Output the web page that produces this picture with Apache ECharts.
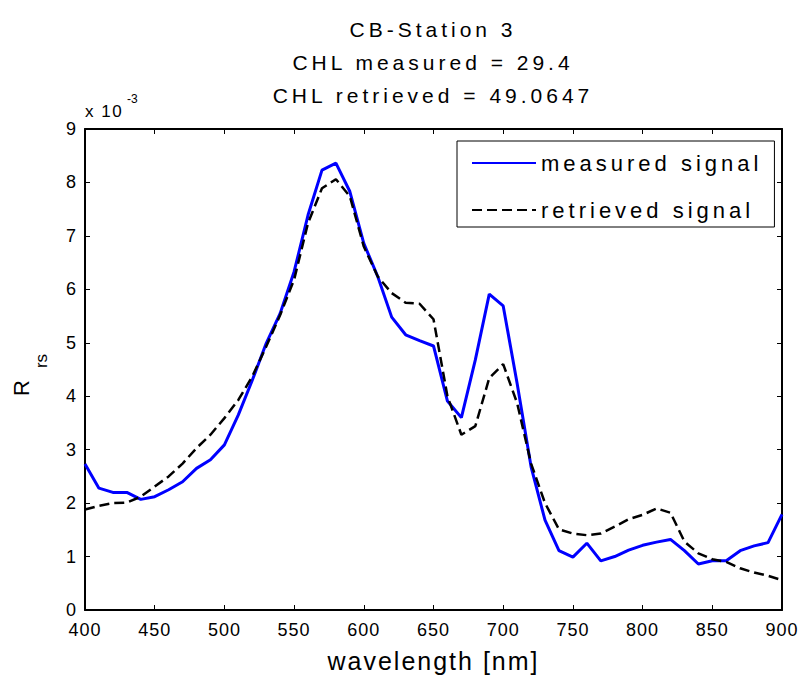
<!DOCTYPE html>
<html>
<head>
<meta charset="utf-8">
<title>CB-Station 3</title>
<script src="https://cdn.jsdelivr.net/npm/echarts@6/dist/echarts.min.js"></script>
<style>
  html, body { margin: 0; padding: 0; background: #fff; }
  #chart { width: 801px; height: 678px; }
</style>
</head>
<body>
<div id="chart"></div>
<script>
// Wavelength grid (nm)
const wavelengths = [400, 410, 420, 430, 440, 450, 460, 470, 480, 490,
  500, 510, 520, 530, 540, 550, 560, 570, 580, 590,
  600, 610, 620, 630, 640, 650, 660, 670, 680, 690,
  700, 710, 720, 730, 740, 750, 760, 770, 780, 790,
  800, 810, 820, 830, 840, 850, 860, 870, 880, 890, 900];

// Remote-sensing reflectance, in units of 1e-3 sr^-1
const measuredSignal = [2.73, 2.28, 2.20, 2.20, 2.07, 2.12, 2.25, 2.40, 2.65, 2.81,
  3.09, 3.65, 4.30, 4.99, 5.55, 6.33, 7.39, 8.23, 8.36, 7.83,
  6.86, 6.24, 5.48, 5.15, 5.04, 4.94, 3.91, 3.60, 4.68, 5.91,
  5.69, 4.24, 2.68, 1.68, 1.11, 0.99, 1.25, 0.92, 1.00, 1.12,
  1.21, 1.27, 1.32, 1.11, 0.86, 0.92, 0.92, 1.11, 1.20, 1.26, 1.79];

const retrievedSignal = [1.88, 1.95, 2.00, 2.01, 2.12, 2.31, 2.50, 2.74, 3.03, 3.28,
  3.59, 3.93, 4.37, 4.93, 5.52, 6.18, 7.24, 7.89, 8.06, 7.74,
  6.80, 6.24, 5.93, 5.75, 5.73, 5.44, 4.00, 3.28, 3.44, 4.34,
  4.60, 3.87, 2.74, 2.00, 1.51, 1.43, 1.40, 1.43, 1.56, 1.70,
  1.78, 1.90, 1.82, 1.28, 1.06, 0.95, 0.90, 0.78, 0.70, 0.64, 0.56];

const xTicks = { min: 400, max: 900, interval: 50 };
const yTicks = { min: 0, max: 9, interval: 1 };

const titleLines = ['CB-Station 3', 'CHL measured = 29.4', 'CHL retrieved = 49.0647'];
const seriesNames = ['measured signal', 'retrieved signal'];
const xLabel = 'wavelength [nm]';
const multiplierText = 'x 10';
const multiplierExp = '-3';

const FONT = "'Liberation Sans', Arial, Helvetica, sans-serif";

const toPairs = (xs, ys) => xs.map((x, i) => [x, ys[i]]);

const frameAxis = (extra) => Object.assign({
  type: 'value',
  axisLine: { show: true, onZero: false, lineStyle: { color: '#000', width: 2 } },
  axisTick: { show: true, inside: true, length: 5, lineStyle: { color: '#000', width: 1 } },
  splitLine: { show: false },
  axisLabel: { show: false }
}, extra);

const chart = echarts.init(document.getElementById('chart'), null, { renderer: 'svg' });

chart.setOption({
  animation: false,
  backgroundColor: '#fff',
  title: {
    text: titleLines.join('\n'),
    left: 433,
    top: 13,
    textAlign: 'center',
    padding: 0,
    textStyle: { fontFamily: FONT, fontSize: 21, fontWeight: 'normal', color: '#000', lineHeight: 33 }
  },
  grid: { left: 85, right: 19, top: 129, bottom: 68, containLabel: false },
  legend: {
    orient: 'vertical',
    left: 457,
    top: 141,
    padding: [7, 72, 2, 14],
    itemWidth: 64,
    itemHeight: 14,
    itemGap: 17,
    borderColor: '#000',
    borderWidth: 1,
    backgroundColor: '#fff',
    data: seriesNames,
    itemStyle: { opacity: 0 },
    textStyle: { fontFamily: FONT, fontSize: 22, color: '#000', lineHeight: 30 }
  },
  xAxis: [
    frameAxis({
      position: 'bottom',
      min: xTicks.min, max: xTicks.max, interval: xTicks.interval,
      axisLabel: { show: true, color: '#000', fontFamily: FONT, fontSize: 18, lineHeight: 14, margin: 13 },
      name: xLabel,
      nameLocation: 'middle',
      nameGap: 38,
      nameTextStyle: { fontFamily: FONT, fontSize: 25, color: '#000' }
    }),
    frameAxis({ position: 'top', min: xTicks.min, max: xTicks.max, interval: xTicks.interval })
  ],
  yAxis: [
    frameAxis({
      position: 'left',
      min: yTicks.min, max: yTicks.max, interval: yTicks.interval,
      axisLabel: { show: true, color: '#000', fontFamily: FONT, fontSize: 18, lineHeight: 14, margin: 8 }
    }),
    frameAxis({ position: 'right', min: yTicks.min, max: yTicks.max, interval: yTicks.interval })
  ],
  graphic: [
    // y-axis quantity R_rs, rotated
    { type: 'text', x: 21, y: 388, rotation: Math.PI / 2,
      style: { text: 'R', fontFamily: FONT, fontSize: 22, fill: '#000', align: 'center', verticalAlign: 'middle' } },
    { type: 'text', x: 41, y: 361, rotation: Math.PI / 2,
      style: { text: 'rs', fontFamily: FONT, fontSize: 17, fill: '#000', align: 'center', verticalAlign: 'middle' } },
    // axis multiplier
    { type: 'text', x: 85, y: 103,
      style: { text: multiplierText, fontFamily: FONT, fontSize: 17, fill: '#000', align: 'left', verticalAlign: 'top' } },
    { type: 'text', x: 127, y: 93,
      style: { text: multiplierExp, fontFamily: FONT, fontSize: 12, fill: '#000', align: 'left', verticalAlign: 'top' } }
  ],
  series: [
    {
      name: seriesNames[0],
      type: 'line',
      xAxisIndex: 0, yAxisIndex: 0,
      data: toPairs(wavelengths, measuredSignal),
      symbol: 'none',
      lineStyle: { color: '#0000ff', width: 3 },
      z: 3
    },
    {
      name: seriesNames[1],
      type: 'line',
      xAxisIndex: 0, yAxisIndex: 0,
      data: toPairs(wavelengths, retrievedSignal),
      symbol: 'none',
      lineStyle: { color: '#000', width: 2.5, type: [10, 5] },
      z: 4
    }
  ]
});

// Open up the glyph spacing of the SVG text
const wideSpaced = new Set(titleLines.concat(seriesNames));
function spaceText() {
  document.querySelectorAll('#chart svg text').forEach(function (t) {
    const s = (t.textContent || '').trim();
    let ls = 0;
    if (wideSpaced.has(s)) ls = 4;
    else if (s === xLabel) ls = 2;
    else if (s === multiplierText) ls = 1.5;
    else if (/^\d+$/.test(s)) ls = 1;
    t.style.letterSpacing = ls + 'px';
  });
}
chart.on('finished', spaceText);
setTimeout(spaceText, 50);
</script>
</body>
</html>
